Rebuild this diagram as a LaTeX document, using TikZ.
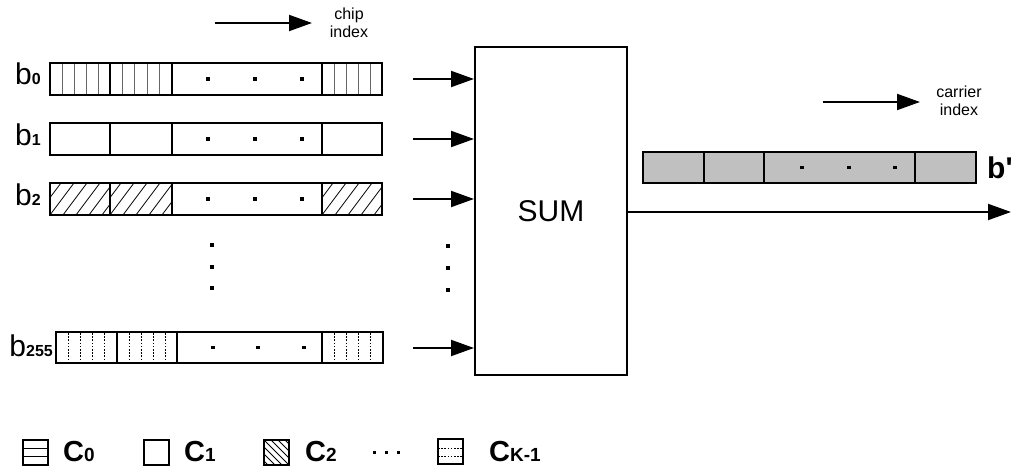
\documentclass[tikz,border=0pt]{standalone}
\usepackage{fontspec}
\setmainfont{Liberation Sans}
\usetikzlibrary{arrows.meta}

\newcommand\fsz[1]{\fontsize{#1}{#1}\selectfont}

\tikzset{
  frame/.style={draw=black, line width=2pt},
  hatch/.style={draw=black!60, line width=0.8pt},
  hatchd/.style={draw=black, line width=0.8pt},
  dotline/.style={draw=black, line width=0.9pt, dash pattern=on 1.6pt off 1.6pt},
  flow/.style={line width=2pt, -{Triangle[length=23pt,width=16pt]}},
  rowlbl/.style={inner sep=0pt, anchor=base east, font=\fsz{30}},
  leglbl/.style={inner sep=0pt, anchor=base west, font=\fsz{29}\bfseries},
  note/.style={inner sep=0pt, align=center, font=\fsz{16}\linespread{1.15}\selectfont},
}

\begin{document}
\begin{tikzpicture}[x=1pt, y=-1pt]
\useasboundingbox (0,0) rectangle (1013,470);

% ---- direction hint: chip index
\coordinate (chipA) at (215,23);
\coordinate (chipB) at (312,23);
\draw[flow] (chipA) -- (chipB);
\node[note] (chiptxt) at (349,23) {chip\\index};

% ---- row b0 : vertical stripes
\foreach \a/\b in {50/110,110/172,322/382}
  \foreach \k in {1,...,4}
    \draw[hatch] ({\a+\k*(\b-\a)/5},63) -- ({\a+\k*(\b-\a)/5},95);
\node[frame, minimum width=332pt, minimum height=32pt, inner sep=0pt] (row0) at (216,79) {};
\foreach \x in {110,172,322} \draw[frame] (\x,63) -- (\x,95);
\foreach \x in {208,255,302} \fill (\x-1.7,77.3) rectangle (\x+1.7,80.7);
\node[rowlbl] (lb0) at (41,85) {b{\fsz{16}\bfseries 0}};

% ---- row b1 : blank
\node[frame, minimum width=332pt, minimum height=32pt, inner sep=0pt] (row1) at (216,139) {};
\foreach \x in {110,172,322} \draw[frame] (\x,123) -- (\x,155);
\foreach \x in {208,255,302} \fill (\x-1.7,137.3) rectangle (\x+1.7,140.7);
\node[rowlbl] (lb1) at (41,146) {b{\fsz{16}\bfseries 1}};

% ---- row b2 : diagonal stripes
\foreach \a/\b in {50/110,110/172,322/382}{
  \begin{scope}
    \clip (\a,183) rectangle (\b,215);
    \foreach \s in {-26,-13,...,78}
      \draw[hatchd] ({\a+\s},215) -- ({\a+\s+24},183);
  \end{scope}
}
\node[frame, minimum width=332pt, minimum height=32pt, inner sep=0pt] (row2) at (216,199) {};
\foreach \x in {110,172,322} \draw[frame] (\x,183) -- (\x,215);
\foreach \x in {208,255,302} \fill (\x-1.7,197.3) rectangle (\x+1.7,200.7);
\node[rowlbl] (lb2) at (41,206) {b{\fsz{16}\bfseries 2}};

% ---- vertical ellipsis between rows
\foreach \y in {245,267,288} \fill (212-1.7,\y-1.7) rectangle (212+1.7,\y+1.7);
\foreach \y in {246,268,290} \fill (448-1.7,\y-1.7) rectangle (448+1.7,\y+1.7);

% ---- row b255 : dotted vertical stripes
\foreach \a/\b in {56/117,117/177,322/383}
  \foreach \k in {1,...,4}
    \draw[dotline] ({\a+\k*(\b-\a)/5},333) -- ({\a+\k*(\b-\a)/5},363);
\node[frame, minimum width=327pt, minimum height=31pt, inner sep=0pt] (row255) at (219.5,347.5) {};
\foreach \x in {117,177,322} \draw[frame] (\x,332) -- (\x,363);
\foreach \x in {213,258,304} \fill (\x-1.7,345.8) rectangle (\x+1.7,349.2);
\node[rowlbl] (lb255) at (53,357) {b{\fsz{16}\bfseries 255}};

% ---- summation block
\node[frame, minimum width=152pt, minimum height=328pt, inner sep=0pt, font=\fsz{30}] (sum) at (551,211) {SUM};

\coordinate (in0) at (413,79);
\coordinate (in1) at (413,139);
\coordinate (in2) at (413,199);
\coordinate (in255) at (413,348);
\foreach \c in {in0,in1,in2,in255}
  \draw[flow] (\c) -- (\c -| sum.west);

\coordinate (out) at (1011,212);
\draw[flow] (sum.east |- out) -- (out);

% ---- direction hint: carrier index
\coordinate (carA) at (823,102);
\coordinate (carB) at (920,102);
\draw[flow] (carA) -- (carB);
\node[note] (cartxt) at (959,101) {carrier\\index};

% ---- output vector b'
\node[frame, fill={rgb,255:red,192;green,192;blue,192}, minimum width=333pt, minimum height=31pt, inner sep=0pt] (bout) at (809.5,167.5) {};
\foreach \x in {704,764,915} \draw[frame] (\x,152) -- (\x,183);
\foreach \x in {802,849,895} \fill (\x-1.7,165.8) rectangle (\x+1.7,169.2);
\node[inner sep=0pt, anchor=base west, font=\fsz{30}\bfseries] (blbl) at (987,179) {b\textquotesingle};

% ---- legend
% C0
\node[frame, minimum size=25pt, inner sep=0pt] (k0) at (35.5,452.5) {};
\draw[line width=0.9pt] (k0.west |- 0,448.5) -- (k0.east |- 0,448.5);
\draw[line width=0.9pt] (k0.west |- 0,456.5) -- (k0.east |- 0,456.5);
\node[leglbl] (t0) at (63,462) {C{\fsz{19}0}};
% C1
\node[frame, minimum size=25pt, inner sep=0pt] (k1) at (156,452.5) {};
\node[leglbl] (t1) at (184,462) {C{\fsz{19}1}};
% C2
\begin{scope}
  \clip (264,440) rectangle (289,465);
  \foreach \s in {-21,-14,...,21}
    \draw[line width=0.9pt] ({264+\s},440) -- ({289+\s},465);
\end{scope}
\node[frame, minimum size=25pt, inner sep=0pt] (k2) at (276.5,452.5) {};
\node[leglbl] (t2) at (305,462) {C{\fsz{19}2}};
% ellipsis
\foreach \x in {374,386,398} \fill (\x-1.5,451.5) rectangle (\x+1.5,454.5);
% CK-1
\node[frame, minimum size=25pt, inner sep=0pt] (kk) at (450.5,452) {};
\draw[dotline, line width=0.8pt] (438,448.5) -- (463,448.5);
\draw[dotline, line width=0.8pt] (438,456) -- (463,456);
\node[leglbl] (tk) at (489,462) {C{\fsz{19}K-1}};
\end{tikzpicture}
\end{document}
